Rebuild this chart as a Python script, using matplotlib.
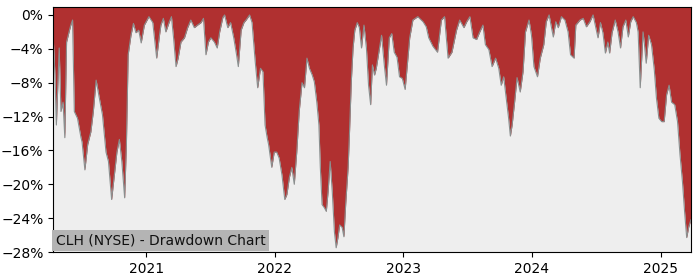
import pandas as pd
import matplotlib
matplotlib.use("Agg")
import matplotlib.pyplot as plt
import matplotlib.dates as mdates
from matplotlib.ticker import MultipleLocator, FuncFormatter

TITLE = "CLH (NYSE) - Drawdown Chart"

dates = [
    "2020-04-11", "2020-04-16", "2020-04-20", "2020-04-28", "2020-05-03", "2020-05-09",
    "2020-05-14", "2020-05-19", "2020-05-26", "2020-05-31", "2020-06-05", "2020-06-10",
    "2020-06-19", "2020-06-29", "2020-07-02", "2020-07-10", "2020-07-18", "2020-07-27",
    "2020-08-03", "2020-08-11", "2020-08-20", "2020-08-29", "2020-09-08", "2020-09-15",
    "2020-09-24", "2020-10-01", "2020-10-09", "2020-10-16", "2020-10-23", "2020-10-31",
    "2020-11-05", "2020-11-10", "2020-11-18", "2020-11-25", "2020-12-02", "2020-12-10",
    "2020-12-17", "2020-12-26",
    "2021-01-08", "2021-01-19", "2021-01-30", "2021-02-07", "2021-02-11", "2021-02-18",
    "2021-02-25", "2021-03-07", "2021-03-13", "2021-03-19", "2021-03-26", "2021-04-01",
    "2021-04-09", "2021-04-19", "2021-04-28", "2021-05-07", "2021-05-17", "2021-05-26",
    "2021-06-05", "2021-06-12", "2021-06-19", "2021-06-26", "2021-07-03", "2021-07-13",
    "2021-07-21", "2021-07-28", "2021-08-06", "2021-08-11", "2021-08-20", "2021-08-28",
    "2021-09-06", "2021-09-14", "2021-09-19", "2021-09-27", "2021-10-05", "2021-10-11",
    "2021-10-21", "2021-10-28", "2021-11-06", "2021-11-13", "2021-11-21", "2021-11-28",
    "2021-12-04", "2021-12-10", "2021-12-14", "2021-12-23", "2021-12-30",
    "2022-01-06", "2022-01-13", "2022-01-21", "2022-01-29", "2022-02-04", "2022-02-11",
    "2022-02-18", "2022-02-25", "2022-03-04", "2022-03-11", "2022-03-19", "2022-03-26",
    "2022-04-02", "2022-04-09", "2022-04-17", "2022-04-23", "2022-04-30", "2022-05-06",
    "2022-05-10", "2022-05-15", "2022-05-22", "2022-05-27", "2022-06-01", "2022-06-07",
    "2022-06-13", "2022-06-19", "2022-06-24", "2022-06-29", "2022-07-04", "2022-07-11",
    "2022-07-16", "2022-07-21", "2022-07-28", "2022-08-01", "2022-08-06", "2022-08-11",
    "2022-08-16", "2022-08-23", "2022-08-29", "2022-09-04", "2022-09-11", "2022-09-18",
    "2022-09-24", "2022-09-30", "2022-10-05", "2022-10-11", "2022-10-16", "2022-10-31",
    "2022-11-08", "2022-11-14", "2022-11-22", "2022-11-29", "2022-12-06", "2022-12-14",
    "2022-12-21", "2022-12-29",
    "2023-01-06", "2023-01-12", "2023-01-19", "2023-01-28", "2023-02-11", "2023-02-26",
    "2023-03-07", "2023-03-14", "2023-03-26", "2023-04-08", "2023-04-19", "2023-04-28",
    "2023-05-08", "2023-05-19", "2023-06-01", "2023-06-10", "2023-06-22", "2023-06-30",
    "2023-07-09", "2023-07-18", "2023-07-28", "2023-08-06", "2023-08-15", "2023-08-22",
    "2023-09-01", "2023-09-10", "2023-09-20", "2023-09-29", "2023-10-06", "2023-10-13",
    "2023-10-20", "2023-10-27", "2023-11-01", "2023-11-06", "2023-11-13", "2023-11-20",
    "2023-11-29", "2023-12-07", "2023-12-14", "2023-12-24", "2023-12-31",
    "2024-01-07", "2024-01-17", "2024-01-25", "2024-02-04", "2024-02-11", "2024-02-19",
    "2024-02-26", "2024-03-02", "2024-03-09", "2024-03-16", "2024-03-25", "2024-04-04",
    "2024-04-13", "2024-04-20", "2024-04-30", "2024-05-05", "2024-05-17", "2024-05-26",
    "2024-06-04", "2024-06-14", "2024-06-23", "2024-07-07", "2024-07-14", "2024-07-21",
    "2024-07-28", "2024-08-04", "2024-08-09", "2024-08-16", "2024-08-25", "2024-09-02",
    "2024-09-09", "2024-09-16", "2024-09-24", "2024-10-01", "2024-10-08", "2024-10-15",
    "2024-10-24", "2024-10-29", "2024-11-04", "2024-11-12", "2024-11-16", "2024-11-21",
    "2024-11-28", "2024-12-06", "2024-12-14", "2024-12-20", "2024-12-27",
    "2025-01-04", "2025-01-11", "2025-01-18", "2025-01-25", "2025-02-01", "2025-02-10",
    "2025-02-18", "2025-02-25", "2025-03-04", "2025-03-10", "2025-03-16", "2025-03-22",
    "2025-03-28",
]

# drawdown in percent
drawdown = [
    -2.6, -7.1, -13.0, -3.9, -11.4, -10.3,
    -14.5, -3.2, -2.0, -1.2, -0.6, -11.4,
    -12.2, -14.5, -15.0, -18.3, -15.3, -13.8,
    -11.4, -7.7, -9.8, -11.8, -16.2, -17.3,
    -21.8, -19.2, -16.2, -14.7, -17.3, -21.6,
    -15.3, -4.7, -2.4, -1.0, -2.1, -1.8,
    -3.3, -1.2,
    -0.2, -0.9, -5.1, -2.4, -1.2, -0.4,
    -2.0, -0.8, -0.2, -2.7, -6.1, -5.1,
    -3.2, -2.7, -1.5, -0.6, -1.5, -1.2,
    -0.9, -0.4, -4.7, -3.2, -2.7, -3.2,
    -3.9, -2.0, -0.3, 0.0, -1.5, -0.9,
    -2.7, -4.7, -6.1, -1.8, -0.9, -0.6,
    0.0, -0.9, -5.5, -8.6, -6.3, -6.7,
    -13.0, -14.5, -15.3, -18.0, -16.2,
    -16.2, -16.9, -18.9, -21.8, -21.2, -19.2,
    -18.0, -20.0, -16.2, -11.4, -8.0, -8.6,
    -5.1, -6.3, -7.1, -7.9, -10.3, -13.0,
    -18.0, -22.4, -22.8, -23.2, -20.9, -17.3,
    -20.9, -25.6, -27.5, -26.3, -24.8, -25.1,
    -26.2, -22.4, -18.0, -13.8, -7.9, -3.9,
    -1.8, -0.9, -1.5, -3.9, -1.2, -3.9,
    -8.3, -10.6, -5.9, -7.1, -6.3, -2.4,
    -6.0, -8.3, -2.7, -2.2, -4.4, -5.0,
    -7.3, -7.5,
    -8.8, -6.0, -2.7, -0.6, -0.2, -0.8,
    -1.4, -2.7, -3.7, -4.4, -0.6, -0.2,
    -5.1, -4.4, -1.8, -0.6, -1.5, -0.8,
    -0.2, -2.7, -2.9, -2.0, -1.2, -3.5,
    -4.1, -6.1, -5.1, -6.3, -8.3, -7.3,
    -9.8, -12.2, -14.3, -13.0, -10.3, -7.4,
    -9.1, -6.7, -2.0, -0.6, -2.4,
    -6.1, -7.3, -5.1, -3.5, -0.8, 0.0,
    -1.5, -2.6, -0.8, -1.5, -0.2, -0.6,
    -2.0, -4.7, -5.1, -1.2, -0.6, -0.4,
    -1.4, -0.8, 0.0, -2.7, -0.9, -2.1,
    -4.5, -3.2, -4.5, -2.1, -0.6, -2.0,
    -3.9, -1.4, -0.6, -2.6, -0.8, -0.2,
    -0.9, -2.0, -8.6, -2.0, -3.5, -5.7,
    -2.4, -3.5, -6.5, -9.8, -12.2,
    -12.6, -12.6, -9.4, -8.3, -10.3, -10.6,
    -12.6, -16.5, -19.7, -23.2, -26.3, -25.0,
    -24.2,
]

x = pd.to_datetime(dates)
y = [v / 100 for v in drawdown]

fig = plt.figure(figsize=(7, 2.8), dpi=100)
ax = fig.add_axes([0.076, 0.1, 0.911, 0.875])
ax.set_facecolor("#eeeeee")

ax.fill_between(x, y, 0.02, color="#b03030", linewidth=0)
ax.plot(x, y, color="#8a8f8f", linewidth=0.8)

ax.set_xlim(x[0], x[-1])
ax.set_ylim(-0.28, 0.0094)
ax.yaxis.set_major_locator(MultipleLocator(0.04))
ax.yaxis.set_major_formatter(FuncFormatter(lambda v, p: f"{v * 100:.0f}%".replace("-", "\u2212")))
ax.xaxis.set_major_locator(mdates.YearLocator())
ax.xaxis.set_major_formatter(mdates.DateFormatter("%Y"))

ax.text(0.004, 0.018, TITLE, transform=ax.transAxes, fontsize=10, color="#111111",
        va="bottom", ha="left",
        bbox=dict(facecolor="#b4b4b4", edgecolor="none", pad=2.5))

fig.savefig("out.png", dpi=100)
